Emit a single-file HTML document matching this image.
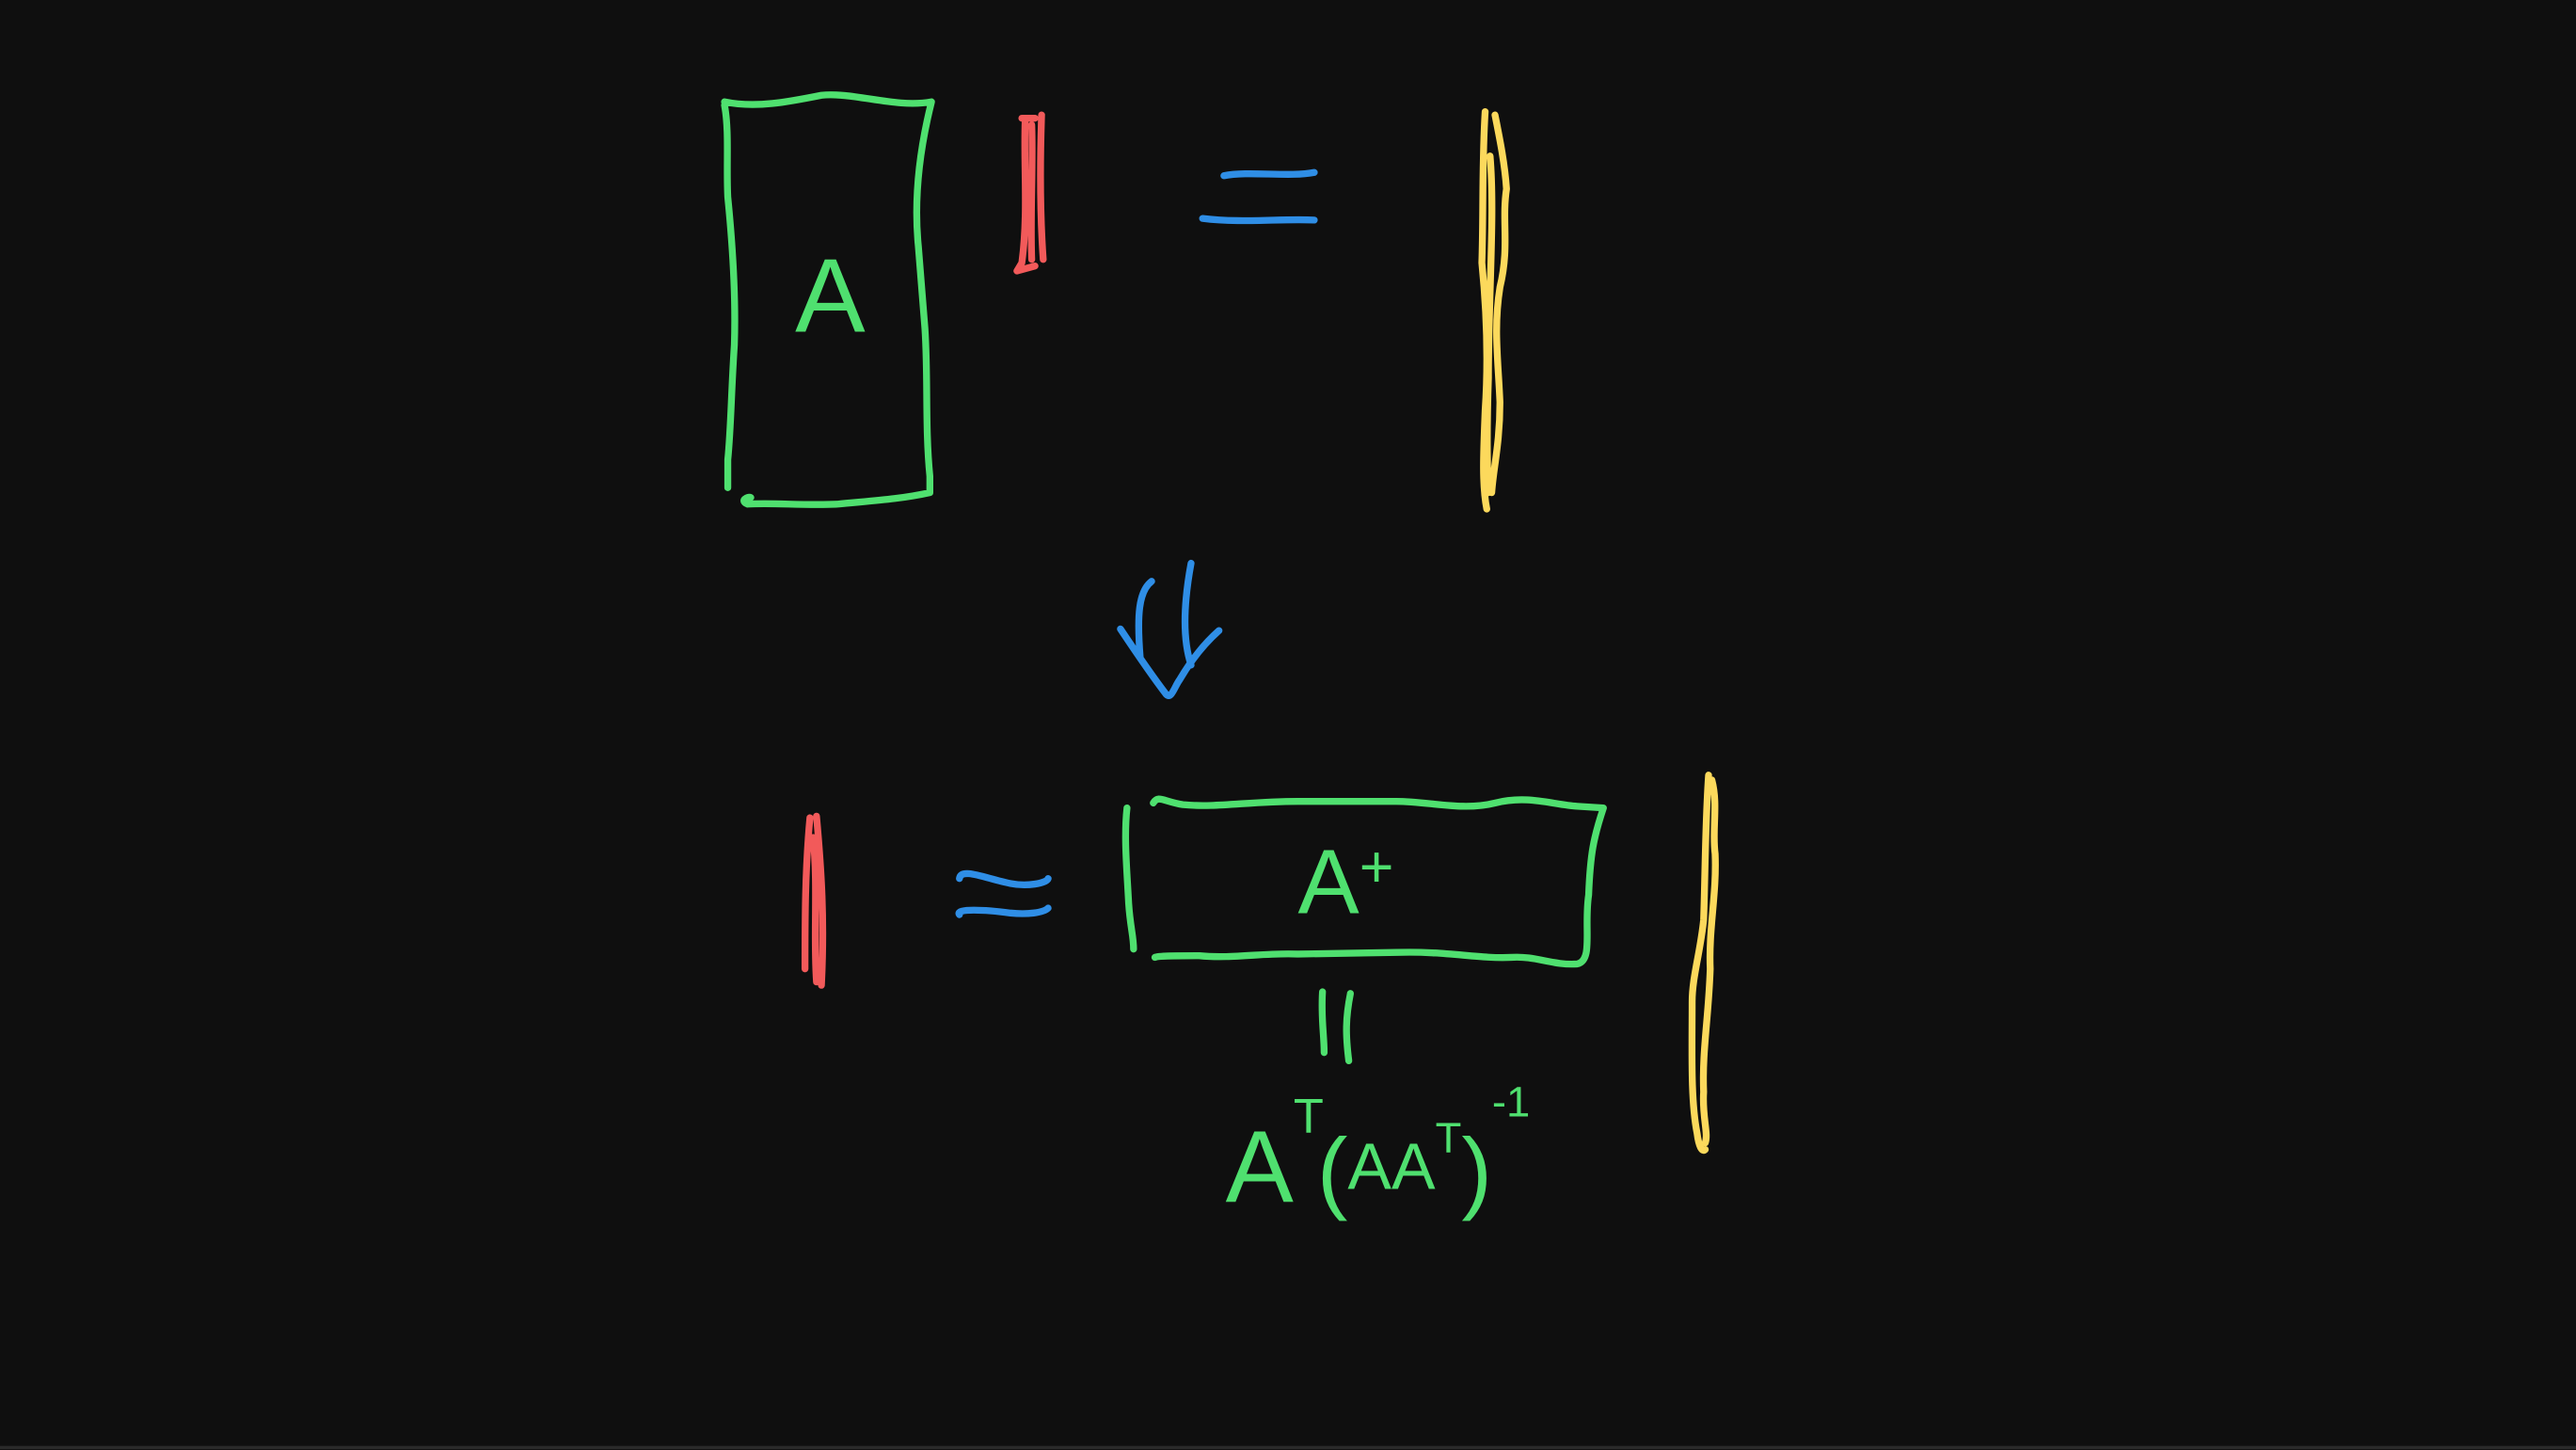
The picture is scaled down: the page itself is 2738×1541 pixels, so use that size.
<!DOCTYPE html>
<html>
<head>
<meta charset="utf-8">
<style>
  html,body{margin:0;padding:0;background:#0f0f0f;}
  svg{display:block;}
  .s{fill:none;stroke-width:4.2;stroke-linecap:round;stroke-linejoin:round;}
  .g{stroke:#4fe06f;}
  .r{stroke:#f25a5a;}
  .b{stroke:#2f8ee6;}
  .y{stroke:#fcd95c;}
  .t{font-family:"Liberation Sans",sans-serif;fill:#4fe06f;stroke:none;}
</style>
</head>
<body>
<svg width="2738" height="1541" viewBox="0 0 1568 883" preserveAspectRatio="none">
  <rect x="0" y="0" width="1568" height="883" fill="#0f0f0f"/>
  <line x1="0" y1="881.5" x2="1568" y2="881.5" stroke="#2a2a2a" stroke-width="2"/>

  <path class="s g" d="M441 62 C460 66 480 62 500 58 C520 56 545 66 567 62 C560 90 556 120 559 150 L563 200 C565 230 563 260 566 290 L566 300 C548 304 530 305 510 307 C490 308 470 306 455 307 C450 305 455 302 457 303 M441 64 C444 80 442 100 443 120 C446 150 448 180 447 210 C445 240 445 260 443 280 L443 297"/>
  <text class="t" x="484" y="202" font-size="64">A</text>
  <path class="s r" d="M622 72 L630 72 M624 74 C623 100 626 130 622 160 L619 165 L630 162 M634 70 C633 100 633 130 635 158 M628 76 C629 100 627 130 628 158" stroke-width="5"/>
  <path class="s b" d="M745 107 C760 104 785 108 800 105 M732 133 C755 136 780 133 800 134"/>
  <path class="s y" d="M904 68 C902 100 903 130 902 160 C905 190 906 220 904 250 C903 275 902 295 905 310 M910 70 C913 85 916 100 917 115 C914 135 919 150 913 175 C909 200 912 220 913 245 C913 270 909 285 908 300 M907 95 C910 130 906 180 906 230 C905 260 905 280 906 300" stroke-width="5"/>

  <path class="s b" d="M701 354 C693 360 692 375 694 400 M725 343 C720 370 720 390 725 405 M682 383 C690 395 700 410 710 423 C713 426 715 418 718 414 C725 402 733 392 742 384"/>

  <path class="s r" d="M493 498 C490 530 490 560 490 590 M497 497 C500 530 502 560 500 600 M495 510 C498 540 495 570 497 598" stroke-width="6"/>
  <path class="s b" d="M584 535 C585 528 600 535 615 538 C625 540 637 538 638 535 M584 557 C581 553 600 554 615 556 C625 557 635 556 638 553"/>
  <path class="s g" d="M702 489 C705 484 708 488 720 490 C740 492 760 488 790 488 L850 488 C870 488 890 494 910 489 C930 484 945 490 960 491 L976 492 C970 510 968 520 967 545 C964 565 970 585 960 587 C945 588 935 582 920 583 C900 584 880 579 850 580 L790 581 C770 580 750 584 730 582 C715 582 705 582 703 583 M686 492 C684 510 686 530 687 550 C688 565 690 570 690 578"/>
  <text class="t" x="790" y="556" font-size="56">A<tspan dy="-16" font-size="36">+</tspan></text>
  <path class="s g" d="M805 604 C804 620 806 630 806 641 M822 605 C819 620 819 630 821 646"/>
  <text class="t" x="746" y="732" font-size="62">A<tspan dy="-42" font-size="30">T</tspan><tspan dy="42" font-size="56" dx="-4">(</tspan><tspan font-size="40" dy="-8">AA</tspan><tspan dy="-22" font-size="26">T</tspan><tspan dy="30" font-size="56">)</tspan><tspan dy="-52" font-size="26">-1</tspan></text>
  <path class="s y" d="M1040 472 C1038 500 1038 530 1037 560 C1035 580 1030 595 1030 610 C1030 640 1029 670 1033 690 C1034 698 1036 702 1038 700 M1042 475 C1046 490 1042 505 1044 520 C1045 545 1040 565 1041 590 C1040 620 1036 640 1037 665 C1036 680 1040 690 1038 696" stroke-width="5"/>
</svg>
</body>
</html>
